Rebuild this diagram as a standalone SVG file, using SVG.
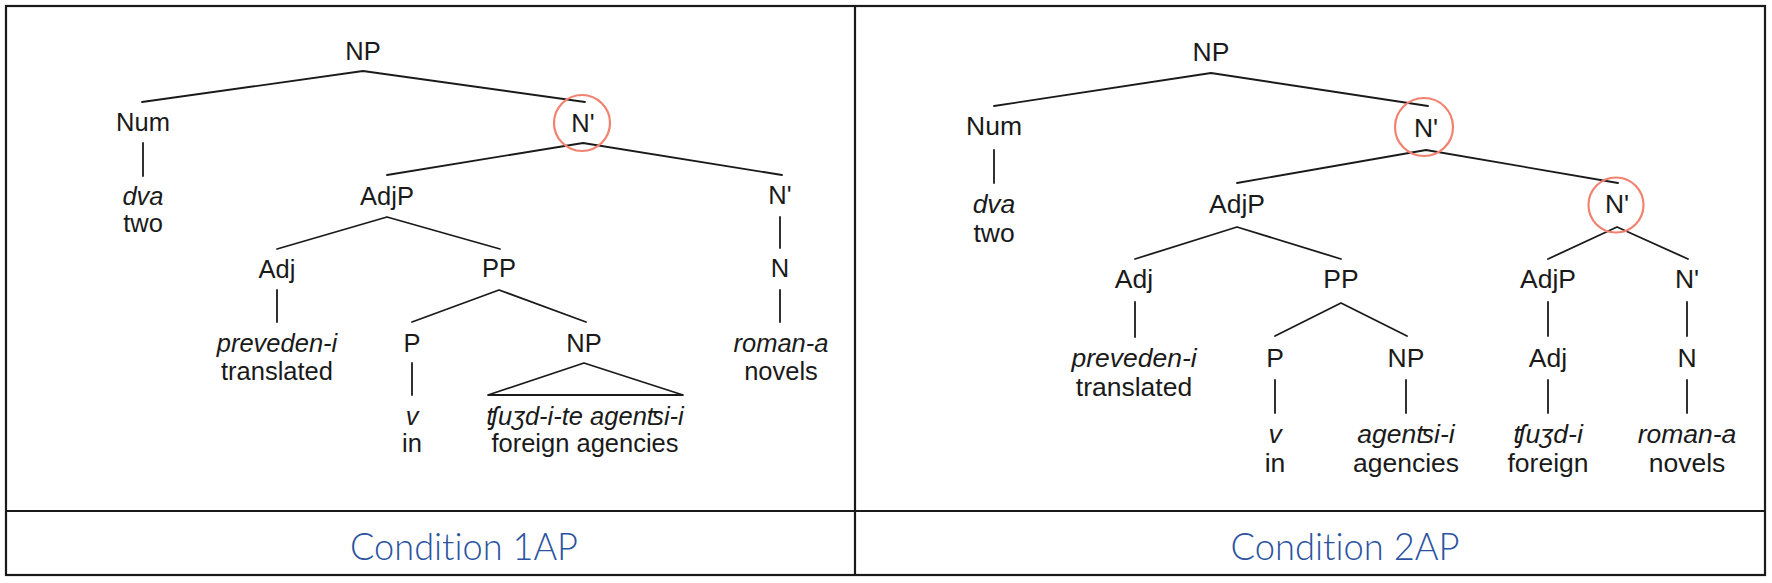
<svg xmlns="http://www.w3.org/2000/svg" width="1772" height="583" viewBox="0 0 1772 583">
<style>
  .t { font-family: "Liberation Sans", Arial, "DejaVu Sans", sans-serif; fill: #1a1a1a; text-anchor: middle; }
  .l { font-size: 25.5px; }
  .r { font-size: 26.5px; }
  .i { font-style: italic; }
  .e { stroke: #1a1a1a; stroke-width: 1.8; fill: none; stroke-linecap: round; stroke-linejoin: round; }
  .hl { stroke: #f2826f; stroke-width: 2.2; fill: none; }
  .grid { stroke: #1a1a1a; stroke-width: 2.2; fill: none; }
  .cap { font-family: Lato, "Open Sans", "Liberation Sans", sans-serif; font-weight: 300; font-size: 38px; fill: #2B53A0; text-anchor: middle; font-variant-ligatures: none; font-feature-settings: "liga" 0, "dlig" 0; }
</style>
<rect width="1772" height="583" fill="#ffffff"/>
<g id="table">
  <rect class="grid" x="6" y="6" width="1759" height="569"/>
  <line class="grid" x1="855" y1="6" x2="855" y2="575"/>
  <line class="grid" x1="6" y1="511" x2="1765" y2="511"/>
  <text class="cap" x="464" y="560" textLength="228" lengthAdjust="spacingAndGlyphs">Condition 1AP</text>
  <text class="cap" x="1345" y="560" textLength="229" lengthAdjust="spacingAndGlyphs">Condition 2AP</text>
</g>
<g id="connectors">
  <!-- left tree -->
  <polyline class="e" points="142,102 363,71 585,102"/>
  <line class="e" x1="143" y1="143" x2="143" y2="176"/>
  <polyline class="e" points="387,175 583,143 782,175"/>
  <polyline class="e" points="277,249 387,217 500,249"/>
  <line class="e" x1="277" y1="290" x2="277" y2="322"/>
  <polyline class="e" points="412,322 499,290 586,322"/>
  <line class="e" x1="412" y1="363" x2="412" y2="395"/>
  <polygon class="e" points="584,363 488,395 683,395"/>
  <line class="e" x1="780" y1="217" x2="780" y2="248"/>
  <line class="e" x1="780" y1="290" x2="780" y2="322"/>
  <!-- right tree -->
  <polyline class="e" points="994,106 1211,73 1428,106"/>
  <line class="e" x1="994" y1="150" x2="994" y2="183"/>
  <polyline class="e" points="1237,183 1426,150 1618,183"/>
  <polyline class="e" points="1135,259 1237,227 1341,259"/>
  <line class="e" x1="1135" y1="302" x2="1135" y2="337"/>
  <polyline class="e" points="1275,336 1341,303 1407,336"/>
  <line class="e" x1="1275" y1="380" x2="1275" y2="413"/>
  <line class="e" x1="1406" y1="380" x2="1406" y2="413"/>
  <polyline class="e" points="1548,259 1617,227 1688,259"/>
  <line class="e" x1="1548" y1="302" x2="1548" y2="336"/>
  <line class="e" x1="1548" y1="380" x2="1548" y2="413"/>
  <line class="e" x1="1687" y1="302" x2="1687" y2="336"/>
  <line class="e" x1="1687" y1="380" x2="1687" y2="413"/>
</g>
<g id="L-NP"><text class="t l" x="363" y="60">NP</text></g>
<g id="L-Num"><text class="t l" x="143" y="131">Num</text></g>
<g id="L-dva"><text class="t l i" x="143" y="205">dva</text><text class="t l" x="143" y="232">two</text></g>
<g id="L-Nbar1"><circle class="hl" cx="582" cy="123" r="28"/><text class="t l" x="583" y="132">N'</text></g>
<g id="L-AdjP"><text class="t l" x="387" y="205">AdjP</text></g>
<g id="L-Nbar2"><text class="t l" x="780" y="204">N'</text></g>
<g id="L-Adj"><text class="t l" x="277" y="278">Adj</text></g>
<g id="L-PP"><text class="t l" x="499" y="277">PP</text></g>
<g id="L-N"><text class="t l" x="780" y="277">N</text></g>
<g id="L-preveden"><text class="t l i" x="277" y="352">preveden-i</text><text class="t l" x="277" y="380">translated</text></g>
<g id="L-P"><text class="t l" x="412" y="352">P</text></g>
<g id="L-NP2"><text class="t l" x="584" y="352">NP</text></g>
<g id="L-roman"><text class="t l i" x="781" y="352">roman-a</text><text class="t l" x="781" y="380">novels</text></g>
<g id="L-v"><text class="t l i" x="412" y="425">v</text><text class="t l" x="412" y="452">in</text></g>
<g id="L-agencies"><text class="t l i" x="585" y="425">ʧuʒd-i-te agenʦi-i</text><text class="t l" x="585" y="452">foreign agencies</text></g>

<g id="R-NP"><text class="t r" x="1211" y="61">NP</text></g>
<g id="R-Num"><text class="t r" x="994" y="135">Num</text></g>
<g id="R-dva"><text class="t r i" x="994" y="213">dva</text><text class="t r" x="994" y="242">two</text></g>
<g id="R-Nbar1"><circle class="hl" cx="1424" cy="127" r="29"/><text class="t r" x="1426" y="137">N'</text></g>
<g id="R-AdjP"><text class="t r" x="1237" y="213">AdjP</text></g>
<g id="R-Nbar2"><circle class="hl" cx="1616" cy="205" r="27.5"/><text class="t r" x="1617" y="213">N'</text></g>
<g id="R-Adj"><text class="t r" x="1134" y="288">Adj</text></g>
<g id="R-PP"><text class="t r" x="1341" y="288">PP</text></g>
<g id="R-AdjP2"><text class="t r" x="1548" y="288">AdjP</text></g>
<g id="R-Nbar3"><text class="t r" x="1687" y="288">N'</text></g>
<g id="R-preveden"><text class="t r i" x="1134" y="367">preveden-i</text><text class="t r" x="1134" y="396">translated</text></g>
<g id="R-P"><text class="t r" x="1275" y="367">P</text></g>
<g id="R-NP2"><text class="t r" x="1406" y="367">NP</text></g>
<g id="R-Adj2"><text class="t r" x="1548" y="367">Adj</text></g>
<g id="R-N"><text class="t r" x="1687" y="367">N</text></g>
<g id="R-v"><text class="t r i" x="1275" y="443">v</text><text class="t r" x="1275" y="472">in</text></g>
<g id="R-agentsi"><text class="t r i" x="1406" y="443">agenʦi-i</text><text class="t r" x="1406" y="472">agencies</text></g>
<g id="R-chuzhd"><text class="t r i" x="1548" y="443">ʧuʒd-i</text><text class="t r" x="1548" y="472">foreign</text></g>
<g id="R-roman"><text class="t r i" x="1687" y="443">roman-a</text><text class="t r" x="1687" y="472">novels</text></g>
</svg>
